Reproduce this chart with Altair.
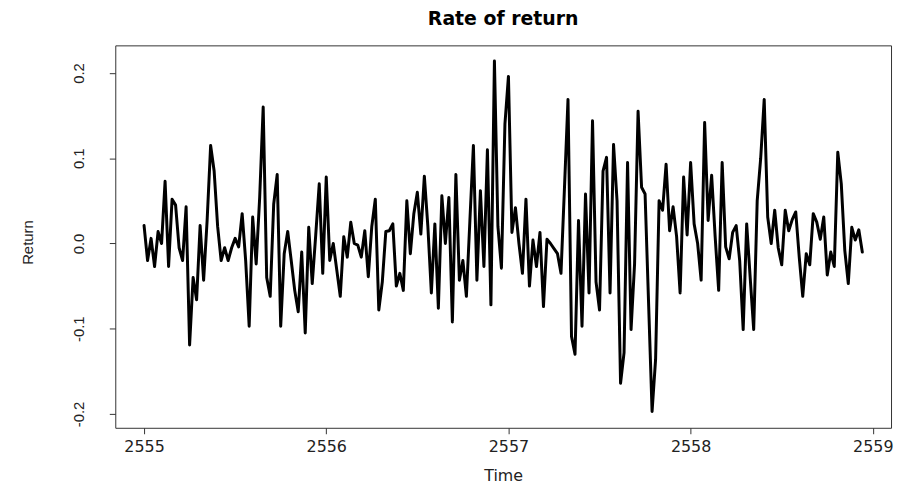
import altair as alt
import pandas as pd

# Weekly rate of return, starting at 2555 (frequency 52)
start_year = 2555
frequency = 52
returns = [
    0.021, -0.02, 0.006, -0.027, 0.014, 0.0, 0.073, -0.027, 0.052, 0.045,
    -0.005, -0.02, 0.043, -0.119, -0.04, -0.066, 0.021, -0.043, 0.027, 0.115,
    0.085, 0.02, -0.02, -0.005, -0.02, -0.005, 0.006, -0.004, 0.035, -0.02,
    -0.097, 0.031, -0.024, 0.054, 0.16, -0.04, -0.062, 0.046, 0.081, -0.097,
    -0.012, 0.014, -0.02, -0.055, -0.08, -0.01, -0.105, 0.019, -0.047, 0.01,
    0.07, -0.035, 0.078, -0.02, 0.0, -0.031, -0.062, 0.008, -0.016, 0.025,
    0.0, -0.002, -0.016, 0.015, -0.039, 0.02, 0.052, -0.078, -0.045, 0.014,
    0.015, 0.023, -0.05, -0.035, -0.055, 0.05, -0.012, 0.035, 0.06, 0.011,
    0.079, 0.02, -0.058, 0.023, -0.076, 0.056, 0.0, 0.054, -0.092, 0.081,
    -0.043, -0.02, -0.062, 0.027, 0.115, -0.043, 0.062, -0.027, 0.11, -0.072,
    0.214, 0.02, -0.029, 0.14, 0.196, 0.013, 0.042, 0.0, -0.035, 0.052,
    -0.05, 0.004, -0.027, 0.013, -0.074, 0.005, 0.0, -0.006, -0.012, -0.035,
    0.066, 0.169, -0.109, -0.13, 0.027, -0.097, 0.058, -0.058, 0.144, -0.045,
    -0.078, 0.085, 0.101, -0.058, 0.116, 0.05, -0.164, -0.128, 0.095, -0.101,
    -0.024, 0.155, 0.066, 0.058, -0.07, -0.197, -0.136, 0.05, 0.039, 0.093,
    0.015, 0.043, 0.008, -0.058, 0.078, 0.01, 0.095, 0.023, 0.0, -0.043,
    0.142, 0.027, 0.08, 0.008, -0.055, 0.095, -0.004, -0.018, 0.013, 0.021,
    -0.02, -0.101, 0.023, -0.04, -0.101, 0.05, 0.1, 0.169, 0.031, 0.0,
    0.039, -0.005, -0.025, 0.039, 0.015, 0.028, 0.037, -0.016, -0.062, -0.012,
    -0.025, 0.035, 0.025, 0.005, 0.031, -0.037, -0.01, -0.027, 0.107, 0.07,
    -0.008, -0.047, 0.019, 0.004, 0.016, -0.01,
]
time = [start_year + i / frequency for i in range(len(returns))]

x_ticks = [2555, 2556, 2557, 2558, 2559]
y_ticks = [-0.2, -0.1, 0.0, 0.1, 0.2]
chart_title = ["Rate of return"]

df = pd.DataFrame({"Time": time, "Return": returns})
title_df = pd.DataFrame({"label": chart_title})

text_color = "#222222"
plot_w, plot_h = 781, 385

line = (
    alt.Chart(df)
    .mark_line(color="black", strokeWidth=3, strokeJoin="round", strokeCap="round")
    .encode(
        x=alt.X(
            "Time:Q",
            scale=alt.Scale(domain=[2554.842, 2559.1], nice=False, zero=False),
            axis=alt.Axis(
                values=x_ticks, format="d", title="Time", grid=False, domain=False,
                tickSize=6, tickColor="#333333", labelFont="DejaVu Sans", labelFontSize=16,
                labelPadding=5, labelColor=text_color, titleFont="DejaVu Sans",
                titleFontSize=16, titleFontWeight="normal", titleColor=text_color,
                titleY=53, titleBaseline="alphabetic",
            ),
        ),
        y=alt.Y(
            "Return:Q",
            scale=alt.Scale(domain=[-0.2162, 0.2324], nice=False, zero=False),
            axis=alt.Axis(
                values=y_ticks, grid=False, domain=False, tickSize=6, tickColor="#333333",
                labelExpr="datum.value < 0 ? '-' + format(-datum.value, '.1f') : format(datum.value, '.1f')",
                labelAngle=270, labelAlign="center", labelBaseline="alphabetic",
                labelPadding=26, labelFont="Liberation Sans", labelFontSize=15,
                labelColor=text_color,
                title="Return", titleAngle=270, titleX=-88, titleY=198,
                titleAlign="center", titleBaseline="middle", titleFont="Liberation Sans",
                titleFontSize=15, titleFontWeight="normal", titleColor=text_color,
            ),
        ),
    )
)

title = (
    alt.Chart(title_df)
    .mark_text(font="DejaVu Sans", fontSize=19, fontWeight="bold", color="black",
               align="center", baseline="alphabetic")
    .encode(text="label:N", x=alt.value(plot_w / 2), y=alt.value(-21))
)

chart = (
    alt.layer(line, title)
    .properties(
        width=plot_w,
        height=plot_h,
        padding={"left": 108, "top": 36, "right": 5, "bottom": 60},
        autosize=alt.AutoSizeParams(type="none"),
    )
    .configure_view(stroke="#333333", strokeWidth=1)
)

chart.save("out.html", embed_options={"renderer": "svg", "actions": False})
